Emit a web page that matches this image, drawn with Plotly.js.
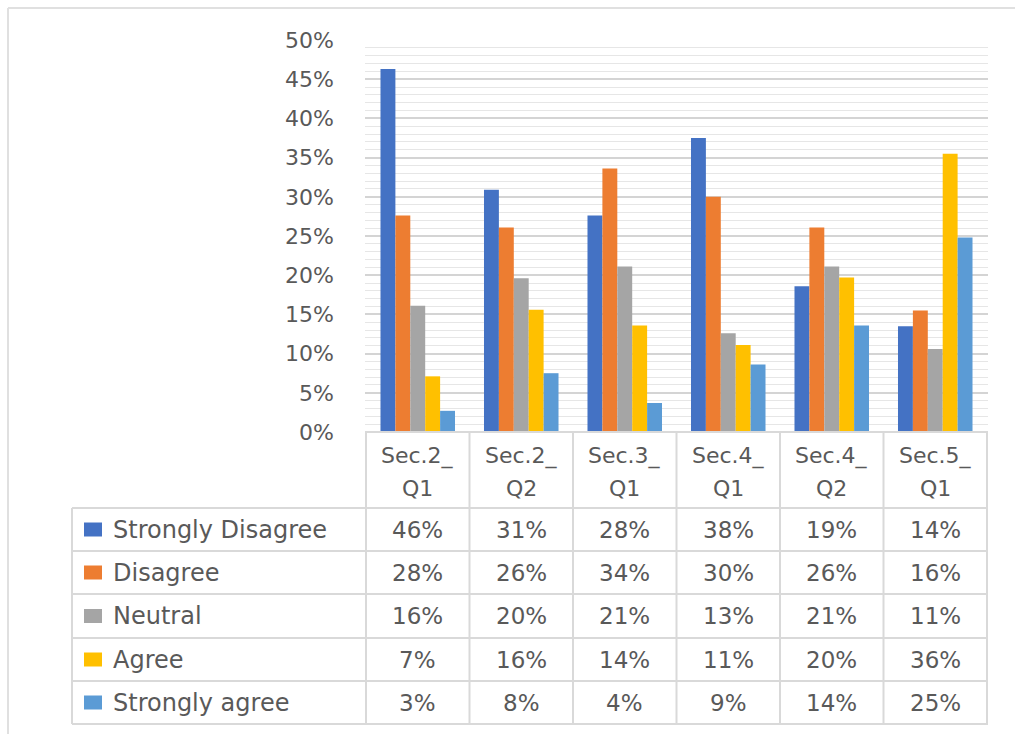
<!DOCTYPE html>
<html>
<head>
<meta charset="utf-8">
<script src="https://cdn.plot.ly/plotly-3.0.1.min.js"></script>
<style>
  html, body { margin: 0; padding: 0; background: #ffffff; }
  #chart { width: 1015px; height: 734px; }
</style>
</head>
<body>
<div id="chart"></div>
<script>
// ---- Data ----
var categories = ["Sec.2_Q1", "Sec.2_Q2", "Sec.3_Q1", "Sec.4_Q1", "Sec.4_Q2", "Sec.5_Q1"];
var headerLines = [["Sec.2_", "Q1"], ["Sec.2_", "Q2"], ["Sec.3_", "Q1"], ["Sec.4_", "Q1"], ["Sec.4_", "Q2"], ["Sec.5_", "Q1"]];
var seriesNames = ["Strongly Disagree", "Disagree", "Neutral", "Agree", "Strongly agree"];
var stronglyDisagree = [0.463, 0.309, 0.276, 0.375, 0.186, 0.135];
var disagree         = [0.276, 0.261, 0.336, 0.300, 0.261, 0.155];
var neutral          = [0.161, 0.196, 0.211, 0.126, 0.211, 0.106];
var agree            = [0.071, 0.156, 0.136, 0.111, 0.197, 0.355];
var stronglyAgree    = [0.027, 0.075, 0.037, 0.086, 0.136, 0.248];
var seriesValues = [stronglyDisagree, disagree, neutral, agree, stronglyAgree];
var seriesColors = ["#4472C4", "#ED7D31", "#A5A5A5", "#FFC000", "#5B9BD5"];

// ---- Geometry helpers (pixel -> paper) ----
var W = 1015, H = 734;
function px(x) { return x / W; }
function py(y) { return 1 - y / H; }

var plotLeft = 365, plotRight = 988, plotTop = 40, plotBottom = 432;
var rowEdges = [508, 551, 594, 638, 681, 724];
var tableLeft = 72;
var textColor = "#595959";
var lineColor = "#d9d9d9";
var fontFam = "DejaVu Sans, Open Sans, sans-serif";

var traces = seriesNames.map(function (name, i) {
  return {
    type: "bar",
    name: name,
    x: categories,
    y: seriesValues[i],
    marker: { color: seriesColors[i] },
    hoverinfo: "x+y+name"
  };
});

var shapes = [];
var annotations = [];

// outer frame (top and left)
shapes.push({ type: "line", xref: "paper", yref: "paper", x0: px(8), x1: 1, y0: py(8), y1: py(8), line: { color: "#e0e0e0", width: 2 } });
shapes.push({ type: "line", xref: "paper", yref: "paper", x0: px(8), x1: px(8), y0: py(8), y1: 0, line: { color: "#e0e0e0", width: 2 } });

// table horizontal lines
shapes.push({ type: "line", xref: "paper", yref: "paper", x0: px(plotLeft), x1: px(plotRight), y0: py(plotBottom), y1: py(plotBottom), line: { color: lineColor, width: 2 } });
rowEdges.forEach(function (ry) {
  shapes.push({ type: "line", xref: "paper", yref: "paper", x0: px(tableLeft), x1: px(plotRight), y0: py(ry), y1: py(ry), line: { color: lineColor, width: 2 } });
});
shapes.push({ type: "line", xref: "paper", yref: "paper", x0: px(tableLeft), x1: px(tableLeft), y0: py(rowEdges[0]), y1: py(rowEdges[rowEdges.length - 1]), line: { color: lineColor, width: 2 } });
// column separators using the category axis
for (var c = 0; c <= categories.length; c++) {
  shapes.push({ type: "line", xref: "x", yref: "paper", x0: c - 0.5, x1: c - 0.5, y0: py(plotBottom), y1: py(rowEdges[rowEdges.length - 1]), line: { color: lineColor, width: 2 } });
}

// header text
categories.forEach(function (cat, i) {
  annotations.push({ xref: "x", yref: "paper", x: cat, y: py(456), text: headerLines[i][0], showarrow: false, xanchor: "center", yanchor: "middle", font: { family: fontFam, size: 22, color: textColor } });
  annotations.push({ xref: "x", yref: "paper", x: cat, y: py(488), text: headerLines[i][1], showarrow: false, xanchor: "center", yanchor: "middle", font: { family: fontFam, size: 22, color: textColor } });
});

// rows: legend keys, names, values
seriesNames.forEach(function (name, r) {
  var yc = (rowEdges[r] + rowEdges[r + 1]) / 2;
  shapes.push({ type: "rect", xref: "paper", yref: "paper", x0: px(84), x1: px(102), y0: py(yc - 7), y1: py(yc + 7), fillcolor: seriesColors[r], line: { width: 0 } });
  annotations.push({ xref: "paper", yref: "paper", x: px(111), y: py(yc), text: name, showarrow: false, xanchor: "left", yanchor: "middle", font: { family: fontFam, size: 24, color: textColor } });
  categories.forEach(function (cat, i) {
    annotations.push({ xref: "x", yref: "paper", x: cat, y: py(yc), text: Math.round(seriesValues[r][i] * 100) + "%", showarrow: false, xanchor: "center", yanchor: "middle", font: { family: fontFam, size: 23, color: textColor } });
  });
});

var layout = {
  width: W, height: H,
  margin: { l: 0, r: 0, t: 0, b: 0, pad: 0 },
  paper_bgcolor: "#ffffff",
  plot_bgcolor: "#ffffff",
  showlegend: false,
  barmode: "group",
  bargap: 0.28,
  bargroupgap: 0,
  xaxis: {
    domain: [px(plotLeft), px(plotRight)],
    showticklabels: false,
    showgrid: false,
    zeroline: false,
    showline: false,
    ticks: "",
    fixedrange: true
  },
  yaxis: {
    domain: [py(plotBottom), py(plotTop)],
    range: [0, 0.5],
    dtick: 0.05,
    tick0: 0,
    tickformat: ".0%",
    showgrid: true,
    gridcolor: "#d4d4d4",
    gridwidth: 2,
    minor: { dtick: 0.01, showgrid: true, gridcolor: "#e6e6e6", gridwidth: 1 },
    zeroline: false,
    showline: false,
    ticks: "",
    ticklabelstandoff: 30,
    tickfont: { family: fontFam, size: 22, color: textColor },
    fixedrange: true
  },
  shapes: shapes,
  annotations: annotations
};

Plotly.newPlot("chart", traces, layout, { displayModeBar: false, staticPlot: true });
</script>
</body>
</html>
